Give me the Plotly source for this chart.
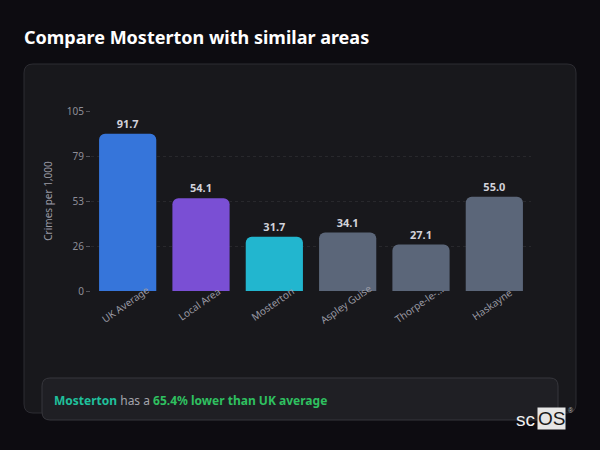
import plotly.graph_objects as go

categories = ["UK Average", "Local Area", "Mosterton", "Aspley Guise", "Thorpe-le-...", "Haskayne"]
values = [91.7, 54.1, 31.7, 34.1, 27.1, 55.0]
bar_colors = ["#3675da", "#7a4fd4", "#22b6cf", "#5b6679", "#5b6679", "#5b6679"]
tick_vals = [0, 26.25, 52.5, 78.75, 105]
tick_text = ["0", "26", "53", "79", "105"]
area = "Mosterton"
uk_value = values[0]
area_value = values[categories.index(area)]
pct = (1 - area_value / uk_value) * 100

W, H = 600, 450
L, R, T, B = 91, 69, 111, 159
PW, PH = W - L - R, H - T - B

def px_x(p):
    return (p - L) / PW

def px_y(p):
    return (H - B - p) / PH

def rrect(x0, y0, x1, y1, r):
    # rounded rectangle in pixel coords -> paper path
    rx, ry = r / PW, r / PH
    X0, X1 = px_x(x0), px_x(x1)
    Y0, Y1 = px_y(y1), px_y(y0)  # bottom, top in paper
    return (f"M {X0+rx},{Y0} L {X1-rx},{Y0} Q {X1},{Y0} {X1},{Y0+ry} "
            f"L {X1},{Y1-ry} Q {X1},{Y1} {X1-rx},{Y1} L {X0+rx},{Y1} "
            f"Q {X0},{Y1} {X0},{Y1-ry} L {X0},{Y0+ry} Q {X0},{Y0} {X0+rx},{Y0} Z")

fig = go.Figure()
fig.add_trace(go.Bar(
    x=categories, y=values,
    marker=dict(color=bar_colors, line=dict(width=0)),
    texttemplate="<b>%{y:.1f}</b>", textposition="outside",
    textfont=dict(family="Noto Sans", size=11, color="#d2d2da"),
    cliponaxis=False, width=0.78, hoverinfo="skip",
))

shapes = [
    dict(type="path", xref="paper", yref="paper", path=rrect(24, 64, 576, 413, 9),
         fillcolor="#18181c", line=dict(color="#2c2c32", width=1), layer="below"),
    dict(type="path", xref="paper", yref="paper", path=rrect(42, 378, 558, 420, 8),
         fillcolor="#1f1f24", line=dict(color="#36363c", width=1), layer="above"),
]

annotations = [
    dict(text="<b>Compare Mosterton with similar areas</b>", xref="paper", yref="paper",
         x=px_x(22), y=px_y(37), xanchor="left", yanchor="middle", showarrow=False,
         font=dict(family="Noto Sans", size=18, color="#ffffff")),
    dict(text=(f"<b><span style='color:#1fc09c'>{area}</span></b>"
               f"<span style='color:#a4a4ac'> has a </span>"
               f"<b><span style='color:#2fc060'>{pct:.1f}% lower than UK average</span></b>"),
         xref="paper", yref="paper", x=px_x(52), y=px_y(400), xanchor="left", yanchor="middle",
         showarrow=False, font=dict(family="Noto Sans", size=12, color="#a4a4ac")),
    dict(text="sc", xref="paper", yref="paper", x=px_x(537), y=px_y(419), xanchor="right",
         yanchor="middle", showarrow=False,
         font=dict(family="Liberation Sans", size=19, color="#f0f0f0")),
    dict(text="OS", xref="paper", yref="paper", x=px_x(537), y=px_y(418), xanchor="left",
         yanchor="middle", showarrow=False, bgcolor="#e6e6e6", borderpad=0,
         font=dict(family="Liberation Sans", size=19, color="#1a1a1a")),
    dict(text="®", xref="paper", yref="paper", x=px_x(571), y=px_y(410), xanchor="center",
         yanchor="middle", showarrow=False,
         font=dict(family="Liberation Sans", size=7, color="#bbbbbb")),
]
for c in categories:
    annotations.append(dict(text=c, x=c, y=0, xref="x", yref="y", yshift=-13, xshift=-2,
                            xanchor="center", yanchor="middle", textangle=-35,
                            showarrow=False,
                            font=dict(family="Noto Sans", size=10, color="#9a9aa4")))

fig.update_layout(
    width=W, height=H, margin=dict(l=L, r=R, t=T, b=B, pad=0),
    paper_bgcolor="#0d0c11", plot_bgcolor="rgba(0,0,0,0)",
    showlegend=False, barcornerradius=6, bargap=0.22,
    shapes=shapes, annotations=annotations,
    font=dict(family="Noto Sans", color="#9a9aa4"),
    xaxis=dict(showticklabels=False, showgrid=False, zeroline=False, showline=False,
               ticks="", fixedrange=True),
    yaxis=dict(range=[0, 105], tickvals=tick_vals, ticktext=tick_text,
               ticks="outside", ticklen=4, tickcolor="#55555c", tickwidth=1,
               tickfont=dict(family="Noto Sans", size=10, color="#8e8e98"),
               showgrid=True, gridcolor="rgba(255,255,255,0.07)", griddash="dot",
               zeroline=False, showline=False, fixedrange=True,
               title=dict(text="Crimes per 1,000", standoff=12,
                          font=dict(family="Noto Sans", size=10, color="#9a9aa4"))),
)
fig.write_html("out.html", config={"displayModeBar": False},
               post_script="document.body.style.margin='0';document.body.style.background='#0d0c11';")
